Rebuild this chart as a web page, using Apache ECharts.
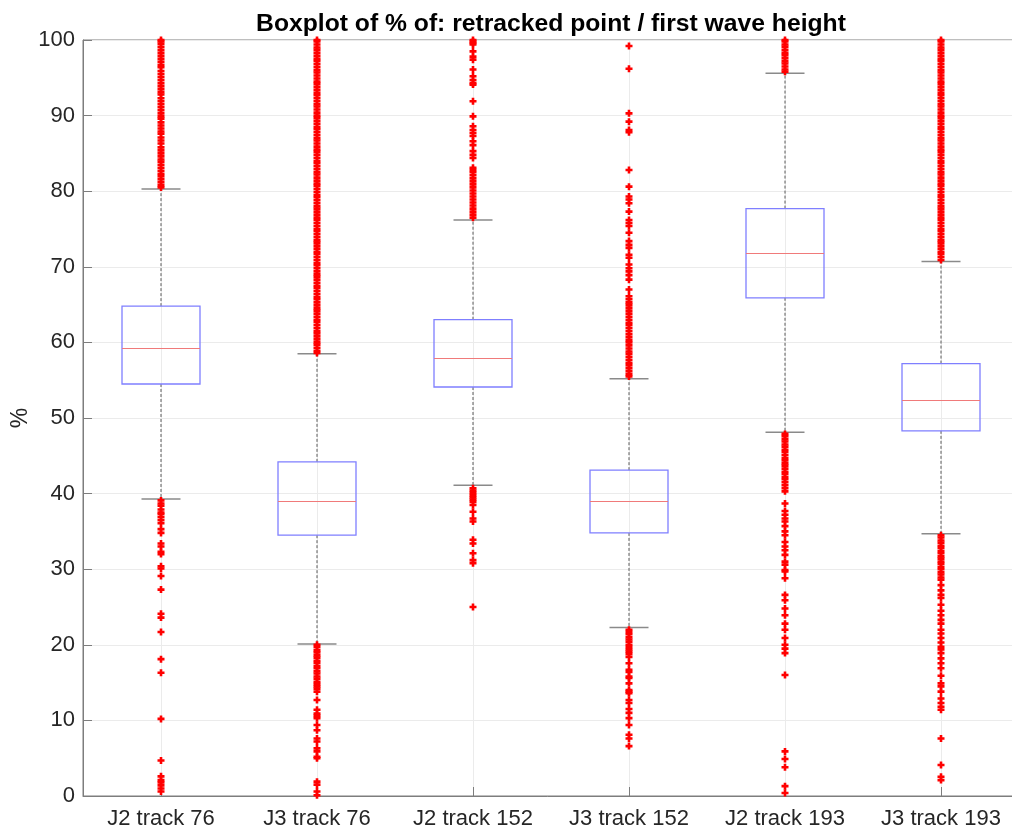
<!DOCTYPE html>
<html>
<head>
<meta charset="utf-8">
<title>Boxplot of % of: retracked point / first wave height</title>
<script src="https://cdn.jsdelivr.net/npm/echarts@6/dist/echarts.min.js"></script>
<style>
  html, body { margin: 0; padding: 0; background: #ffffff; }
  #chart { width: 1012px; height: 829px; }
</style>
</head>
<body>
<div id="chart"></div>
<script>
// Groups along the x axis
const categories = ['J2 track 76', 'J3 track 76', 'J2 track 152', 'J3 track 152', 'J2 track 193', 'J3 track 193'];

// Box statistics per group (%)
const lowerWhisker = [39.3, 20.1, 41.1, 22.3, 48.1, 34.7];
const q1 = [54.5, 34.5, 54.1, 34.8, 65.9, 48.3];
const median = [59.2, 39.0, 58.0, 39.0, 71.8, 52.4];
const q3 = [64.8, 44.2, 63.0, 43.1, 77.7, 57.2];
const upperWhisker = [80.3, 58.5, 76.2, 55.2, 95.6, 70.7];

// Outliers per group (%)
const outliersJ2t76 = [
  80.5, 80.8, 81.2, 81.6, 82.0, 82.3, 82.7, 83.1, 83.5, 83.9, 84.2, 84.6, 85.0, 85.4, 85.8,
  86.3, 86.7, 87.1, 87.6, 87.9, 88.3, 88.7, 89.1, 89.6, 89.9, 90.3, 90.7, 91.1, 91.5, 91.9,
  92.3, 92.8, 93.1, 93.5, 93.9, 94.3, 94.7, 95.1, 95.5, 95.9, 96.4, 96.7, 97.1, 97.5, 97.9,
  98.3, 98.7, 99.1, 99.5, 99.8, 100.0,
  39.1, 38.7, 38.4, 37.9, 37.5, 37.3, 36.9, 36.5, 36.1, 35.3, 34.8, 33.4, 33.0, 32.3, 32.0,
  30.4, 30.1, 29.1, 27.3, 24.1, 23.6, 21.7, 18.1, 16.3, 10.2, 4.7, 2.6, 2.1, 1.8, 1.4, 1.0, 0.6
];
const outliersJ3t76 = [
  58.6, 58.9, 59.3, 59.7, 60.0, 60.4, 60.8, 61.2, 61.5, 61.9, 62.3, 62.7, 63.0, 63.4, 63.8,
  64.2, 64.5, 64.9, 65.3, 65.7, 66.0, 66.4, 66.8, 67.2, 67.5, 67.9, 68.3, 68.7, 69.0, 69.4,
  69.8, 70.2, 70.5, 70.9, 71.3, 71.7, 72.0, 72.4, 72.8, 73.2, 73.5, 73.9, 74.3, 74.7, 75.0,
  75.4, 75.8, 76.2, 76.5, 76.9, 77.3, 77.7, 78.0, 78.4, 78.8, 79.2, 79.5, 79.9, 80.3, 80.7,
  81.0, 81.4, 81.8, 82.2, 82.5, 82.9, 83.3, 83.7, 84.0, 84.4, 84.8, 85.2, 85.5, 85.9, 86.3,
  86.7, 87.0, 87.4, 87.8, 88.2, 88.5, 88.9, 89.3, 89.7, 90.0, 90.4, 90.8, 91.2, 91.5, 91.9,
  92.3, 92.7, 93.0, 93.4, 93.8, 94.2, 94.5, 94.9, 95.3, 95.7, 96.0, 96.4, 96.8, 97.2, 97.5,
  97.9, 98.3, 98.7, 99.0, 99.4, 99.8, 100.0,
  20.0, 19.7, 19.3, 19.0, 18.6, 18.3, 17.9, 17.6, 17.2, 16.9, 16.5, 16.2, 15.8, 15.5, 15.1,
  14.8, 14.5, 14.2, 13.8, 12.7, 11.4, 10.9, 10.6, 10.3, 9.4, 8.7, 7.6, 7.2, 6.3, 5.9, 5.2,
  5.0, 1.9, 1.5, 0.6, 0.1
];
const outliersJ2t152 = [
  76.5, 76.9, 77.3, 77.7, 78.1, 78.5, 78.9, 79.3, 79.7, 80.1, 80.5, 80.9, 81.3, 81.7, 82.1,
  82.5, 82.8, 83.1, 84.4, 84.8, 85.3, 86.1, 86.6, 87.3, 87.7, 88.1, 88.6, 89.9, 91.9, 94.1,
  94.3, 94.7, 95.2, 96.1, 97.4, 97.8, 98.5, 99.4, 99.6, 99.8, 100.0,
  40.7, 40.4, 40.1, 39.8, 39.5, 39.2, 38.9, 38.5, 37.6, 36.7, 36.3, 33.9, 33.4, 32.1, 31.2,
  30.8, 25.0
];
const outliersJ3t152 = [
  55.5, 55.8, 56.2, 56.6, 57.0, 57.3, 57.7, 58.1, 58.5, 58.8, 59.2, 59.6, 60.0, 60.3, 60.7,
  61.1, 61.5, 61.9, 62.3, 62.6, 63.0, 63.4, 63.8, 64.2, 64.6, 65.0, 65.3, 65.7, 66.1, 67.0,
  68.3, 68.9, 69.4, 69.8, 70.3, 71.2, 71.6, 72.5, 72.9, 73.4, 74.5, 75.4, 75.8, 76.2, 77.3,
  78.4, 78.9, 79.3, 80.6, 82.8, 87.8, 88.1, 89.2, 90.3, 96.2, 99.2,
  22.0, 21.7, 21.4, 21.0, 20.7, 20.4, 20.0, 19.7, 19.4, 19.1, 18.8, 18.4, 17.55, 16.7, 16.4,
  15.8, 15.6, 14.9, 14.0, 13.8, 13.6, 12.7, 12.3, 11.5, 11.0, 10.3, 9.4, 8.1, 7.6, 6.6
];
const outliersJ2t193 = [
  95.8, 96.1, 96.5, 96.9, 97.2, 97.6, 98.0, 98.3, 98.7, 99.1, 99.4, 99.8, 100.0,
  47.9, 47.6, 47.2, 46.9, 46.5, 46.2, 45.8, 45.5, 45.1, 44.7, 44.4, 44.0, 43.7, 43.3, 42.9,
  42.6, 42.2, 41.9, 41.5, 41.1, 40.7, 40.3, 38.7, 37.7, 37.2, 36.7, 36.3, 35.7, 35.0, 34.5,
  33.6, 33.0, 32.5, 31.9, 31.0, 30.6, 29.9, 29.7, 28.8, 26.6, 25.9, 24.8, 23.9, 22.8, 22.0,
  20.9, 20.0, 19.5, 18.9, 16.0, 5.9, 4.9, 3.8, 1.3, 0.4
];
const outliersJ3t193 = [
  70.9, 71.3, 71.7, 72.0, 72.4, 72.8, 73.2, 73.5, 73.9, 74.3, 74.7, 75.0, 75.4, 75.8, 76.2,
  76.5, 76.9, 77.3, 77.7, 78.0, 78.4, 78.8, 79.2, 79.5, 79.9, 80.3, 80.7, 81.0, 81.4, 81.8,
  82.2, 82.5, 82.9, 83.3, 83.7, 84.0, 84.4, 84.8, 85.2, 85.5, 85.9, 86.3, 86.7, 87.0, 87.4,
  87.8, 88.2, 88.5, 88.9, 89.3, 89.7, 90.0, 90.4, 90.8, 91.2, 91.5, 91.9, 92.3, 92.7, 93.0,
  93.4, 93.8, 94.2, 94.5, 94.9, 95.3, 95.7, 96.0, 96.4, 96.8, 97.2, 97.5, 97.9, 98.3, 98.7,
  99.0, 99.4, 99.8, 100.0,
  34.5, 34.2, 33.8, 33.5, 33.1, 32.8, 32.4, 32.1, 31.7, 31.4, 31.0, 30.7, 30.3, 30.0, 29.6,
  29.3, 28.9, 28.6, 27.9, 27.2, 26.6, 26.2, 25.3, 24.5, 23.9, 23.3, 22.8, 22.0, 21.5, 20.9,
  20.3, 19.75, 19.4, 18.9, 18.2, 17.55, 16.9, 15.9, 14.9, 14.5, 13.8, 12.9, 12.3, 11.8, 11.4,
  7.6, 4.1, 2.55, 2.1
];
const outlierGroups = [outliersJ2t76, outliersJ3t76, outliersJ2t152, outliersJ3t152, outliersJ2t193, outliersJ3t193];

// Rows for the box renderer: [groupIndex, lowerWhisker, q1, median, q3, upperWhisker]
const boxRows = categories.map((c, i) => [i, lowerWhisker[i], q1[i], median[i], q3[i], upperWhisker[i]]);
// Rows for the outlier markers: [groupIndex, value]
const outlierRows = [];
outlierGroups.forEach((vals, i) => vals.forEach(v => outlierRows.push([i, v])));

const FONT = '"Liberation Sans", Arial, Helvetica, sans-serif';
const TEXT = '#262626';
const AXIS = '#7d7d7d';
// "+" marker outline in a 7x7 box
const PLUS = 'path://M2.2,0H4.8V2.2H7V4.8H4.8V7H2.2V4.8H0V2.2H2.2Z';

function renderBox(params, api) {
  const x = api.value(0);
  const band = api.size([1, 0])[0];
  const boxHalf = band * 0.25;
  const capHalf = band * 0.125;
  const pLo = api.coord([x, api.value(1)]);
  const pQ1 = api.coord([x, api.value(2)]);
  const pMed = api.coord([x, api.value(3)]);
  const pQ3 = api.coord([x, api.value(4)]);
  const pHi = api.coord([x, api.value(5)]);
  const cx = pMed[0];
  const dashStyle = { stroke: '#5a5a5a', lineWidth: 1, lineDash: [3, 2] };
  const capStyle = { stroke: '#8a8a8a', lineWidth: 1.5 };
  const medY = Math.round(pMed[1]) + 0.5;
  return {
    type: 'group',
    children: [
      { type: 'line', shape: { x1: cx, y1: pQ3[1], x2: cx, y2: pHi[1] }, style: dashStyle },
      { type: 'line', shape: { x1: cx, y1: pQ1[1], x2: cx, y2: pLo[1] }, style: dashStyle },
      { type: 'line', shape: { x1: cx - capHalf, y1: pHi[1], x2: cx + capHalf, y2: pHi[1] }, style: capStyle },
      { type: 'line', shape: { x1: cx - capHalf, y1: pLo[1], x2: cx + capHalf, y2: pLo[1] }, style: capStyle },
      {
        type: 'rect',
        shape: { x: cx - boxHalf, y: pQ3[1], width: boxHalf * 2, height: pQ1[1] - pQ3[1] },
        style: { fill: null, stroke: '#7f7fff', lineWidth: 1.3 }
      },
      {
        type: 'line',
        shape: { x1: cx - boxHalf, y1: medY, x2: cx + boxHalf, y2: medY },
        style: { stroke: '#f07a7a', lineWidth: 1 }
      }
    ]
  };
}

const chart = echarts.init(document.getElementById('chart'), null, { renderer: 'canvas' });
chart.setOption({
  animation: false,
  backgroundColor: '#ffffff',
  grid: {
    left: 83, top: 40, width: 936, height: 756,
    containLabel: false,
    outerBoundsMode: 'none',
    show: true, borderColor: AXIS, borderWidth: 1, backgroundColor: '#ffffff'
  },
  graphic: [
    {
      type: 'text',
      x: 551, y: 24,
      style: {
        text: 'Boxplot of % of: retracked point / first wave height',
        font: 'bold 24.7px ' + FONT,
        fill: '#000000',
        textAlign: 'center',
        textVerticalAlign: 'middle'
      }
    },
    {
      // y-axis title, rotated to read bottom-to-top
      type: 'text',
      x: 21, y: 418,
      rotation: Math.PI / 2,
      style: {
        text: '%',
        font: '23px ' + FONT,
        fill: TEXT,
        textAlign: 'center',
        textVerticalAlign: 'middle'
      }
    }
  ],
  xAxis: {
    type: 'category',
    data: categories,
    boundaryGap: true,
    axisLine: { show: true, lineStyle: { color: AXIS, width: 1 } },
    axisTick: { show: true, inside: true, length: 9, alignWithLabel: true, lineStyle: { color: AXIS } },
    axisLabel: { color: TEXT, fontSize: 22, fontFamily: FONT, margin: 12, interval: 0 },
    splitLine: { show: true, alignWithLabel: true, lineStyle: { color: '#ebebeb', width: 1 } }
  },
  yAxis: {
    type: 'value',
    min: 0, max: 100, interval: 10,
    axisLine: { show: true, lineStyle: { color: AXIS, width: 1 } },
    axisTick: { show: true, inside: true, length: 9, lineStyle: { color: AXIS } },
    axisLabel: { color: TEXT, fontSize: 22, fontFamily: FONT, margin: 8 },
    splitLine: { show: true, lineStyle: { color: '#ebebeb', width: 1 } }
  },
  series: [
    {
      type: 'custom',
      name: 'boxes',
      renderItem: renderBox,
      data: boxRows,
      encode: { x: 0, y: [1, 2, 3, 4, 5] },
      silent: true,
      z: 2
    },
    {
      type: 'scatter',
      name: 'outliers',
      data: outlierRows,
      symbol: PLUS,
      symbolSize: 7,
      itemStyle: { color: '#ff0000', opacity: 1 },
      silent: true,
      z: 3
    }
  ]
});
</script>
</body>
</html>
